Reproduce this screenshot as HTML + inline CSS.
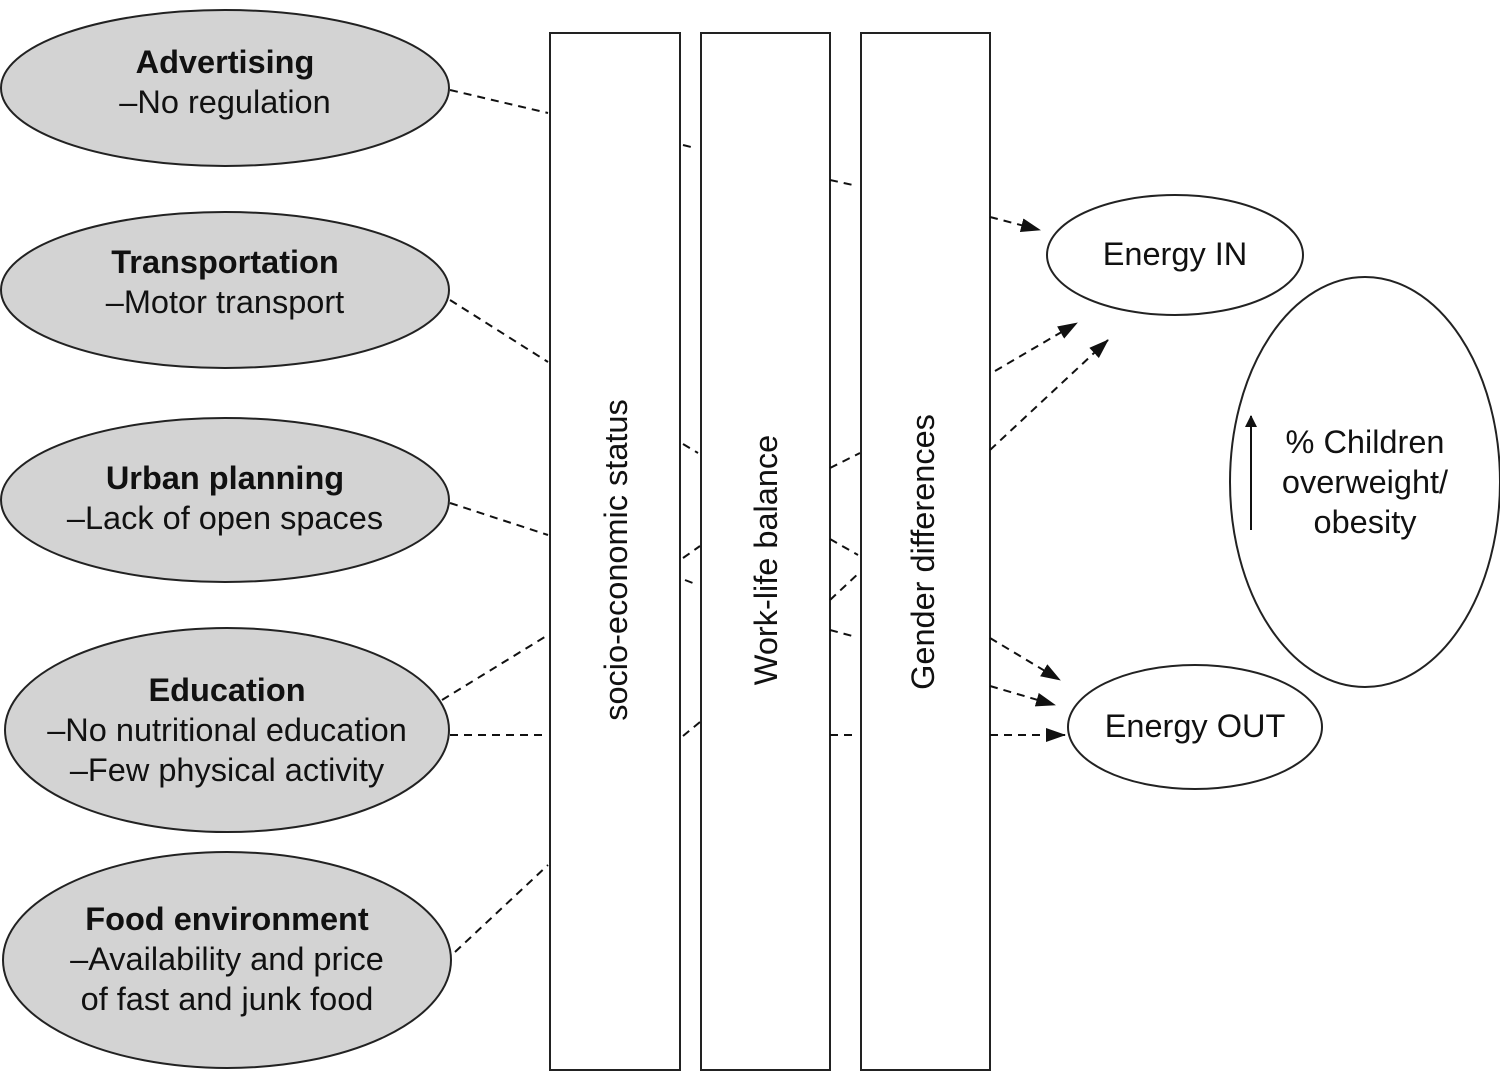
<!DOCTYPE html>
<html><head><style>
html,body{margin:0;padding:0;background:#fff;}
svg{display:block;font-family:"Liberation Sans",Arial,sans-serif;}
</style></head><body>
<svg width="1500" height="1072" viewBox="0 0 1500 1072" xmlns="http://www.w3.org/2000/svg">
<defs><marker id="a" markerWidth="12" markerHeight="12" refX="11" refY="6" orient="auto" markerUnits="userSpaceOnUse"><path d="M0,0 L12,6 L0,12 z" fill="#111"/></marker>
<marker id="b" markerWidth="20" markerHeight="14" refX="19" refY="7" orient="auto" markerUnits="userSpaceOnUse"><path d="M0,0 L20,7 L0,14 z" fill="#111"/></marker></defs>
<g fill="#d3d3d3" stroke="#222" stroke-width="2">
<ellipse cx="225" cy="88" rx="224" ry="78"/>
<ellipse cx="225" cy="290" rx="224" ry="78"/>
<ellipse cx="225" cy="500" rx="224" ry="82"/>
<ellipse cx="227" cy="730" rx="222" ry="102"/>
<ellipse cx="227" cy="960" rx="224" ry="108"/>
</g>
<g fill="#fff" stroke="#222" stroke-width="2">
<rect x="550" y="33" width="130" height="1037"/>
<rect x="701" y="33" width="129" height="1037"/>
<rect x="861" y="33" width="129" height="1037"/>
<ellipse cx="1175" cy="255" rx="128" ry="60"/>
<ellipse cx="1195" cy="727" rx="127" ry="62"/>
<ellipse cx="1365" cy="482" rx="135" ry="205"/>
</g>
<g stroke="#111" stroke-width="2" stroke-dasharray="8,6" fill="none">
<line x1="450" y1="90" x2="548" y2="113"/>
<line x1="450" y1="300" x2="548" y2="362"/>
<line x1="450" y1="503" x2="548" y2="535"/>
<line x1="442" y1="700" x2="548" y2="635"/>
<line x1="450" y1="735" x2="548" y2="735"/>
<line x1="455" y1="952" x2="548" y2="865"/>
<line x1="683" y1="145" x2="695" y2="148"/>
<line x1="683" y1="444" x2="698" y2="453"/>
<line x1="683" y1="558" x2="700" y2="546"/>
<line x1="685" y1="580" x2="698" y2="585"/>
<line x1="683" y1="736" x2="700" y2="722"/>
<line x1="830" y1="180" x2="853" y2="185"/>
<line x1="830" y1="468" x2="860" y2="453"/>
<line x1="830" y1="539" x2="858" y2="555"/>
<line x1="830" y1="600" x2="860" y2="572"/>
<line x1="830" y1="630" x2="856" y2="637"/>
<line x1="830" y1="735" x2="858" y2="735"/>
<line x1="990" y1="217" x2="1040" y2="230" marker-end="url(#b)"/>
<line x1="995" y1="371" x2="1077" y2="323" marker-end="url(#b)"/>
<line x1="990" y1="450" x2="1108" y2="340" marker-end="url(#b)"/>
<line x1="990" y1="638" x2="1060" y2="680" marker-end="url(#b)"/>
<line x1="990" y1="686" x2="1055" y2="705" marker-end="url(#b)"/>
<line x1="990" y1="735" x2="1065" y2="735" marker-end="url(#b)"/>
</g>
<line x1="1251" y1="530" x2="1251" y2="416" stroke="#111" stroke-width="2" marker-end="url(#a)"/>
<g font-size="32.5" fill="#111" text-anchor="middle">
<text x="225" y="73" font-weight="bold">Advertising</text>
<text x="225" y="113">–No regulation</text>
<text x="225" y="273" font-weight="bold">Transportation</text>
<text x="225" y="313">–Motor transport</text>
<text x="225" y="489" font-weight="bold">Urban planning</text>
<text x="225" y="529">–Lack of open spaces</text>
<text x="227" y="701" font-weight="bold">Education</text>
<text x="227" y="741">–No nutritional education</text>
<text x="227" y="781">–Few physical activity</text>
<text x="227" y="930" font-weight="bold">Food environment</text>
<text x="227" y="970">–Availability and price</text>
<text x="227" y="1010">of fast and junk food</text>
<text x="1175" y="265">Energy IN</text>
<text x="1195" y="737">Energy OUT</text>
<text x="1365" y="453">% Children</text>
<text x="1365" y="493">overweight/</text>
<text x="1365" y="533">obesity</text>
<text transform="translate(627,560) rotate(-90)">socio-economic status</text>
<text transform="translate(777,560) rotate(-90)">Work-life balance</text>
<text transform="translate(934,552) rotate(-90)">Gender differences</text>
</g>
</svg>
</body></html>
